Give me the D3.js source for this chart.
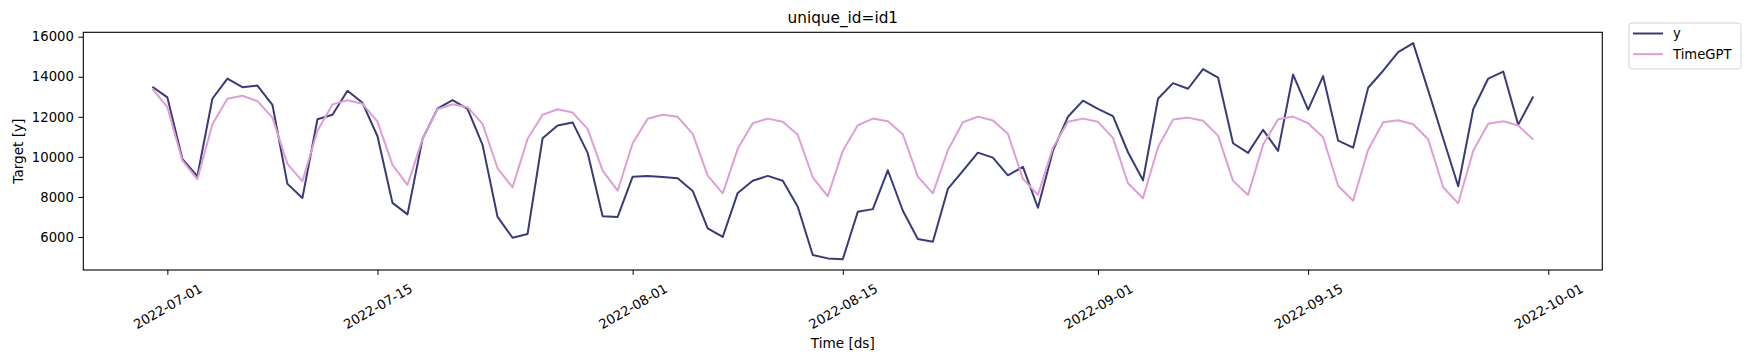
<!DOCTYPE html>
<html>
<head>
<meta charset="utf-8">
<script src="https://cdn.jsdelivr.net/npm/d3@7"></script>
<style>
  body { margin: 0; background: #fff; }
  svg { display: block; font-family: "DejaVu Sans", sans-serif; }
</style>
</head>
<body>
<svg width="1750" height="361"></svg>
<script>
// daily series, 2022-06-30 .. 2022-09-30
var startDay = new Date(2022, 5, 30),
    endDay = new Date(2022, 8, 30);

var actual = [13500, 12970, 9900, 9030, 12900, 13910, 13480, 13560, 12600, 8650,
  7950, 11880, 12100, 13300, 12700, 11030, 7700, 7130, 10900, 12410,
  12830, 12400, 10600, 7000, 5960, 6150, 10930, 11570, 11720, 10200,
  7030, 7000, 9010, 9050, 9000, 8930, 8300, 6430, 6000, 8200,
  8810, 9050, 8810, 7510, 5100, 4930, 4890, 7260, 7390, 9330,
  7310, 5900, 5760, 8400, 9300, 10210, 9960, 9080, 9500, 7460,
  10310, 12000, 12810, 12400, 12030, 10230, 8830, 12900, 13680, 13400,
  14380, 13960, 10680, 10200, 11350, 10300, 14110, 12360, 14030, 10810,
  10460, 13450, 14300, 15230, 15680, 13320, 10920, 8530, 12380, 13910,
  14260, 11610, 13010];

var timegpt = [13400, 12480, 9820, 8880, 11630, 12900, 13050, 12780, 11960, 9650,
  8780, 11300, 12620, 12830, 12650, 11760, 9600, 8600, 10900, 12380,
  12630, 12480, 11650, 9430, 8480, 10900, 12100, 12380, 12210, 11400,
  9310, 8310, 10680, 11900, 12100, 12000, 11150, 9060, 8180, 10400,
  11680, 11910, 11750, 11100, 8980, 8030, 10300, 11580, 11910, 11780,
  11130, 9010, 8180, 10330, 11730, 12010, 11820, 11150, 8900, 8100,
  10460, 11750, 11910, 11750, 10950, 8680, 7930, 10480, 11860, 11960,
  11800, 11060, 8800, 8100, 10600, 11880, 12010, 11680, 10980, 8560,
  7810, 10360, 11730, 11830, 11630, 10880, 8480, 7680, 10300, 11650,
  11780, 11570, 10860];

var xTicks = ["2022-07-01", "2022-07-15", "2022-08-01", "2022-08-15", "2022-09-01", "2022-09-15", "2022-10-01"];
var yTicks = [6000, 8000, 10000, 12000, 14000, 16000];
var seriesNames = ["y", "TimeGPT"];
var colors = ["#393b79", "#de9ed6"];

var days = d3.timeDay.range(startDay, d3.timeDay.offset(endDay, 1));
var parse = d3.timeParse("%Y-%m-%d");

var svg = d3.select("svg"),
    margin = {top: 32.3, right: 147.7, bottom: 91, left: 83.3},
    width = 1750 - margin.left - margin.right,
    height = 361 - margin.top - margin.bottom,
    g = svg.append("g").attr("transform", "translate(" + margin.left + "," + margin.top + ")");

// matplotlib style 5% margins
var span = endDay - startDay;
var x = d3.scaleTime()
    .domain([new Date(+startDay - span * 0.05), new Date(+endDay + span * 0.05)])
    .range([0, width]);

var all = actual.concat(timegpt),
    lo = d3.min(all), hi = d3.max(all), pad = (hi - lo) * 0.05;
var y = d3.scaleLinear()
    .domain([lo - pad, hi + pad])
    .range([height, 0]);

var line = d3.line()
    .x(function(d, i) { return x(days[i]); })
    .y(function(d) { return y(d); });

[actual, timegpt].forEach(function(s, k) {
  g.append("path")
    .datum(s)
    .attr("fill", "none")
    .attr("stroke", colors[k])
    .attr("stroke-width", 2)
    .attr("stroke-linejoin", "round")
    .attr("d", line);
});

var xAxis = g.append("g")
    .attr("transform", "translate(0," + height + ")")
    .call(d3.axisBottom(x)
      .tickValues(xTicks.map(parse))
      .tickFormat(d3.timeFormat("%Y-%m-%d"))
      .tickSize(4.9).tickSizeOuter(0));
xAxis.select(".domain").remove();
xAxis.selectAll("text")
    .attr("y", 0).attr("dy", null)
    .attr("text-anchor", "middle")
    .attr("dominant-baseline", "central")
    .attr("transform", "translate(0,36.5) rotate(-30)");

var yAxis = g.append("g")
    .call(d3.axisLeft(y)
      .tickValues(yTicks)
      .tickFormat(d3.format("d"))
      .tickSize(4.9).tickPadding(4.6).tickSizeOuter(0));
yAxis.select(".domain").remove();

svg.selectAll(".tick text").attr("font-size", "13.2px").attr("fill", "#000").attr("font-family", "DejaVu Sans");
svg.selectAll(".tick line").attr("stroke", "#000").attr("stroke-width", 1);

g.append("rect")
    .attr("width", width).attr("height", height)
    .attr("fill", "none").attr("stroke", "#000").attr("stroke-width", 1.1);

// labels
svg.append("text")
    .attr("x", margin.left + width / 2).attr("y", 23.3)
    .attr("text-anchor", "middle").attr("font-size", "15.3px")
    .text("unique_id=id1");

svg.append("text")
    .attr("x", margin.left + width / 2).attr("y", 348)
    .attr("text-anchor", "middle").attr("font-size", "13.6px")
    .text("Time [ds]");

svg.append("text")
    .attr("transform", "translate(18," + (margin.top + height / 2) + ") rotate(-90)")
    .attr("text-anchor", "middle").attr("dominant-baseline", "central")
    .attr("font-size", "13.6px")
    .text("Target [y]");

// legend
var lg = svg.append("g").attr("transform", "translate(1629,23)");
lg.append("rect")
    .attr("width", 112).attr("height", 46).attr("rx", 3)
    .attr("fill", "#fff").attr("fill-opacity", 0.8)
    .attr("stroke", "#d4d4d4").attr("stroke-width", 1);
seriesNames.forEach(function(name, k) {
  var yy = 10.5 + k * 20.7;
  lg.append("line")
    .attr("x1", 4).attr("x2", 34).attr("y1", yy).attr("y2", yy)
    .attr("stroke", colors[k]).attr("stroke-width", 2);
  lg.append("text")
    .attr("x", 44).attr("y", yy)
    .attr("dominant-baseline", "central")
    .attr("font-size", "13.2px")
    .text(name);
});
</script>
</body>
</html>
